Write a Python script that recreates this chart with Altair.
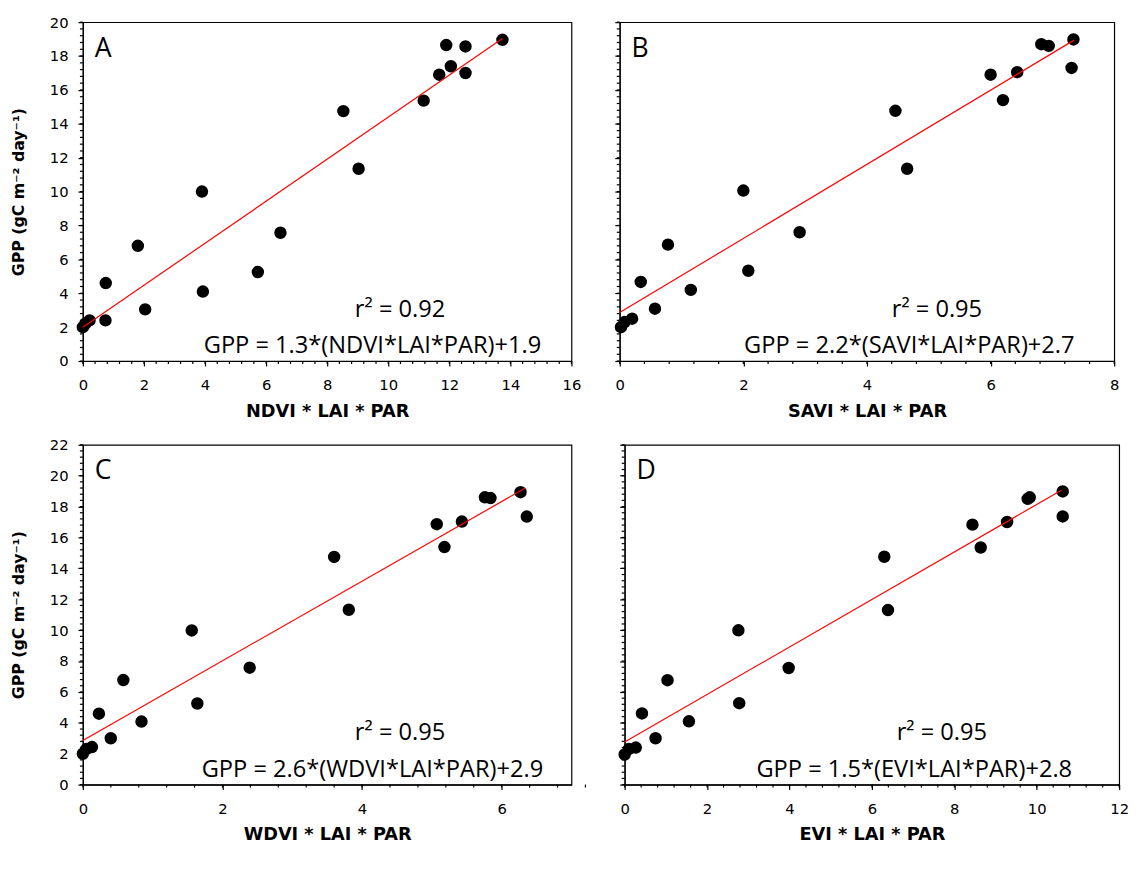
import altair as alt
import pandas as pd

# ---------------- data ----------------
# Panel A : NDVI * LAI * PAR
a_x = [0.0, 0.08, 0.22, 0.74, 0.75, 1.80, 2.04, 3.90, 3.93, 5.73, 6.47, 8.53, 9.03, 11.16, 11.67, 11.90, 12.05, 12.53, 12.53, 13.74]
a_y = [2.0, 2.2, 2.4, 2.4, 4.6, 6.8, 3.05, 10.0, 4.1, 5.25, 7.57, 14.75, 11.35, 15.37, 16.9, 18.65, 17.4, 18.57, 17.0, 18.96]
a_fit_x = [0.0, 13.74]
a_fit_y = [1.99, 19.03]

# Panel B : SAVI * LAI * PAR
b_x = [0.02, 0.08, 0.20, 0.34, 0.57, 0.78, 1.15, 2.00, 2.08, 2.91, 4.46, 4.65, 6.00, 6.20, 6.43, 6.82, 6.94, 7.31, 7.34]
b_y = [2.0, 2.3, 2.5, 4.67, 3.09, 6.87, 4.2, 10.06, 5.33, 7.6, 14.77, 11.35, 16.9, 15.4, 17.05, 18.7, 18.6, 17.3, 18.98]
b_fit_x = [0.0, 7.35]
b_fit_y = [2.86, 18.94]

# Panel C : WDVI * LAI * PAR
c_x = [0.0, 0.05, 0.13, 0.23, 0.40, 0.58, 0.84, 1.56, 1.64, 2.39, 3.60, 3.81, 5.07, 5.18, 5.43, 5.76, 5.84, 6.27, 6.36]
c_y = [2.0, 2.3, 2.43, 4.59, 3.0, 6.77, 4.08, 9.98, 5.25, 7.57, 14.74, 11.32, 16.86, 15.38, 17.03, 18.6, 18.55, 18.93, 17.35]
c_fit_x = [0.0, 6.34]
c_fit_y = [2.86, 19.2]

# Panel D : EVI * LAI * PAR
d_x = [0.0, 0.10, 0.27, 0.42, 0.75, 1.04, 1.56, 2.76, 2.78, 3.98, 6.30, 6.39, 8.44, 8.64, 9.28, 9.78, 9.83, 10.63, 10.63]
d_y = [1.95, 2.3, 2.4, 4.61, 3.0, 6.76, 4.1, 9.99, 5.27, 7.55, 14.75, 11.3, 16.83, 15.35, 17.0, 18.5, 18.6, 18.98, 17.36]
d_fit_x = [0.0, 10.6]
d_fit_y = [2.76, 19.06]

letters = ["A", "B", "C", "D"]
x_titles = ["NDVI * LAI * PAR", "SAVI * LAI * PAR", "WDVI * LAI * PAR", "EVI * LAI * PAR"]
r2_labels = ["r\u00b2 = 0.92", "r\u00b2 = 0.95", "r\u00b2 = 0.95", "r\u00b2 = 0.95"]
eq_labels = [
    "GPP = 1.3*(NDVI*LAI*PAR)+1.9",
    "GPP = 2.2*(SAVI*LAI*PAR)+2.7",
    "GPP = 2.6*(WDVI*LAI*PAR)+2.9",
    "GPP = 1.5*(EVI*LAI*PAR)+2.8",
]
x_max = [16, 8, 7, 12]
y_max = [20, 20, 22, 22]
y_title = "GPP (gC m\u207b\u00b2 day\u207b\u00b9)"

LABEL_FONT = "DejaVu Sans"
TITLE_FONT = "DejaVu Sans"
NOTE_FONT = "Open Sans"


def frange(stop, step):
    n = int(round(stop / step))
    return [round(i * step, 4) for i in range(n + 1)]


def panel(xs, ys, fx, fy, i, w, h, show_y):
    pts = pd.DataFrame({"x": xs, "y": ys})
    fit = pd.DataFrame({"x": fx, "y": fy})
    xs_scale = alt.Scale(domain=[0, x_max[i]], nice=False, zero=False, padding=0)
    ys_scale = alt.Scale(domain=[0, y_max[i]], nice=False, zero=False, padding=0)

    x_axis = alt.Axis(
        values=frange(x_max[i], 2), tickCount=100, title=x_titles[i], tickSize=5,
        labelPadding=12, titlePadding=10, titleFontSize=18, grid=False, orient="bottom",
        format="d", labelFlush=False, labelOverlap=False,
    )
    if show_y:
        y_axis = alt.Axis(
            values=frange(y_max[i], 2), tickCount=100, title=y_title, tickSize=5,
            labelPadding=10, titlePadding=23, titleFontSize=16, grid=False, orient="left",
            format="d", labelFlush=False, labelOverlap=False,
        )
    else:
        y_axis = alt.Axis(
            values=frange(y_max[i], 2), tickCount=100, title=None, labels=False,
            tickSize=5, grid=False, orient="left",
        )

    # minor tick marks (every 0.4 units) placed through the scales
    minor_x = pd.DataFrame({"x": frange(x_max[i], 0.4)})
    minor_y = pd.DataFrame({"y": frange(y_max[i], 0.4)})
    xticks = alt.Chart(minor_x).mark_rule(color="black", strokeWidth=1.2).encode(
        x=alt.X("x:Q", scale=xs_scale), y=alt.value(h), y2=alt.value(h + 3)
    )
    yticks = alt.Chart(minor_y).mark_rule(color="black", strokeWidth=1.2).encode(
        y=alt.Y("y:Q", scale=ys_scale), x=alt.value(0), x2=alt.value(-3)
    )

    dots = alt.Chart(pts).mark_circle(size=160, color="black", opacity=1).encode(
        x=alt.X("x:Q", scale=xs_scale, axis=x_axis),
        y=alt.Y("y:Q", scale=ys_scale, axis=y_axis),
    )
    line = alt.Chart(fit).mark_line(color="#ff0000", strokeWidth=1.2).encode(
        x=alt.X("x:Q", scale=xs_scale),
        y=alt.Y("y:Q", scale=ys_scale),
    )
    letter = alt.Chart(pd.DataFrame({"t": [letters[i]]})).mark_text(
        font=NOTE_FONT, fontSize=27, align="left", baseline="alphabetic", color="black"
    ).encode(text="t:N", x=alt.value(12), y=alt.value(35))
    r2 = alt.Chart(pd.DataFrame({"t": [r2_labels[i]]})).mark_text(
        font=NOTE_FONT, fontSize=24, align="center", baseline="alphabetic", color="black"
    ).encode(text="t:N", x=alt.value(322), y=alt.value(h - 45))
    eq = alt.Chart(pd.DataFrame({"t": [eq_labels[i]]})).mark_text(
        font=NOTE_FONT, fontSize=24, align="center", baseline="alphabetic", color="black"
    ).encode(text="t:N", x=alt.value(294), y=alt.value(h - 8))

    return alt.layer(dots, xticks, yticks, line, letter, r2, eq).properties(width=w, height=h)


pA = panel(a_x, a_y, a_fit_x, a_fit_y, 0, 496, 344, True)
pB = panel(b_x, b_y, b_fit_x, b_fit_y, 1, 502, 344, False)
pC = panel(c_x, c_y, c_fit_x, c_fit_y, 2, 496, 345, True)
pD = panel(d_x, d_y, d_fit_x, d_fit_y, 3, 502, 345, False)

top = alt.hconcat(pA, pB, spacing=31)
bottom = alt.hconcat(pC, pD, spacing=31)

chart = alt.vconcat(top, bottom, spacing=16).properties(
    padding={"left": 2, "top": 0, "right": 0, "bottom": 0}
).configure_view(
    stroke="black", strokeWidth=1.2
).configure_axis(
    labelFont=LABEL_FONT, labelFontSize=15, labelColor="black",
    titleFont=TITLE_FONT, titleFontWeight="bold", titleColor="black",
    domainColor="black", domainWidth=1.2, tickColor="black", tickWidth=1.2,
)

chart.save("out.html", embed_options={"renderer": "svg", "actions": False})
